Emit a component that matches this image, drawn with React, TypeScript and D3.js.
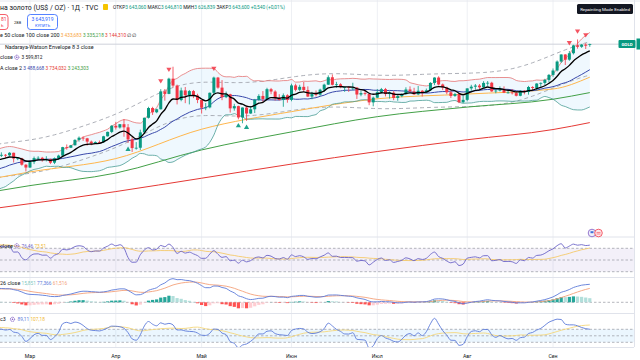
import React from 'react';
import * as d3 from 'd3';

// ---------- data ----------
const closedDays = ['2025-04-18', '2025-07-04'];
const monthNames = ['Янв', 'Фев', 'Мар', 'Апр', 'Май', 'Июн', 'Июл', 'Авг', 'Сен'];

// closes before the visible range (indicator warm-up only)
const priorCloses = [2612, 2618, 2634, 2621, 2606, 2624, 2658, 2640, 2636, 2648, 2662, 2670, 2689, 2662, 2677, 2697, 2714, 2702, 2708, 2745, 2755, 2754, 2770, 2740, 2763, 2760, 2794, 2798, 2815, 2842, 2866, 2856, 2861, 2908, 2897, 2905, 2928, 2882, 2898, 2935];

const opens = [2935, 2933, 2939, 2936, 2952, 2915, 2917, 2876, 2858, 2893, 2918, 2920, 2910, 2911, 2889, 2917, 2934, 2988, 2984, 3000, 3034, 3048, 3044, 3023, 3011, 3020, 3019, 3057, 3085, 3124, 3113, 3134, 3114, 3037, 2982, 2984, 3082, 3175, 3237, 3210, 3229, 3343, 3327, 3424, 3380, 3288, 3349, 3319, 3345, 3317, 3288, 3239, 3241, 3334, 3431, 3367, 3306, 3325, 3235, 3249, 3177, 3240, 3202, 3229, 3290, 3314, 3294, 3357, 3342, 3300, 3288, 3318, 3289, 3381, 3353, 3372, 3352, 3310, 3326, 3322, 3354, 3386, 3433, 3385, 3388, 3369, 3370, 3367, 3367, 3323, 3332, 3327, 3273, 3303, 3338, 3357, 3326, 3335, 3301, 3313, 3325, 3355, 3343, 3324, 3347, 3338, 3350, 3397, 3431, 3387, 3368, 3337, 3314, 3326, 3274, 3289, 3362, 3373, 3380, 3369, 3397, 3398, 3343, 3348, 3356, 3335, 3336, 3332, 3315, 3347, 3339, 3371, 3365, 3393, 3397, 3416, 3448, 3476, 3533, 3578, 3545, 3586, 3636, 3627, 3641, 3643.06];
const highs = [2947, 2955, 2944, 2956, 2953, 2925, 2920, 2880, 2898, 2928, 2930, 2926, 2930, 2915, 2922, 2940, 2990, 3005, 3002, 3038, 3056, 3057, 3047, 3030, 3025, 3030, 3060, 3087, 3128, 3149, 3135, 3167, 3135, 3055, 3020, 3099, 3176, 3245, 3245, 3233, 3357, 3358, 3430, 3500, 3386, 3367, 3371, 3352, 3352, 3328, 3290, 3269, 3336, 3437, 3435, 3415, 3342, 3328, 3264, 3252, 3241, 3252, 3250, 3295, 3325, 3345, 3366, 3365, 3350, 3325, 3330, 3325, 3392, 3392, 3385, 3403, 3375, 3340, 3349, 3360, 3392, 3445, 3451, 3404, 3395, 3372, 3375, 3398, 3371, 3347, 3350, 3328, 3310, 3358, 3365, 3365, 3343, 3345, 3318, 3330, 3369, 3375, 3366, 3377, 3352, 3361, 3402, 3433, 3439, 3393, 3373, 3345, 3334, 3334, 3315, 3363, 3385, 3390, 3390, 3408, 3409, 3404, 3358, 3375, 3375, 3346, 3358, 3345, 3351, 3351, 3378, 3376, 3395, 3400, 3423, 3454, 3489, 3540, 3579, 3580, 3600, 3640, 3674, 3645, 3650, 3646.81];
const lows = [2922, 2925, 2920, 2930, 2890, 2905, 2870, 2833, 2856, 2880, 2905, 2895, 2897, 2880, 2880, 2906, 2930, 2972, 2982, 2998, 3023, 3028, 2998, 3000, 3008, 3011, 3015, 3055, 3077, 3100, 3106, 3054, 3015, 2957, 2972, 2970, 3072, 3170, 3193, 3204, 3228, 3284, 3325, 3367, 3260, 3280, 3268, 3260, 3300, 3268, 3202, 3223, 3235, 3320, 3360, 3287, 3300, 3208, 3220, 3165, 3140, 3155, 3200, 3205, 3283, 3277, 3287, 3325, 3285, 3285, 3245, 3271, 3280, 3343, 3345, 3339, 3307, 3293, 3310, 3315, 3340, 3384, 3381, 3366, 3363, 3340, 3340, 3350, 3295, 3312, 3317, 3255, 3248, 3300, 3330, 3311, 3297, 3287, 3283, 3306, 3322, 3341, 3320, 3319, 3310, 3332, 3345, 3383, 3381, 3351, 3325, 3301, 3308, 3268, 3268, 3280, 3346, 3355, 3358, 3366, 3378, 3340, 3331, 3343, 3332, 3330, 3323, 3311, 3312, 3324, 3322, 3351, 3350, 3373, 3384, 3402, 3436, 3470, 3525, 3511, 3538, 3578, 3615, 3620, 3613, 3626.84];
const closes = [2933, 2939, 2936, 2952, 2915, 2917, 2876, 2858, 2893, 2918, 2920, 2910, 2911, 2889, 2917, 2934, 2988, 2984, 3000, 3034, 3048, 3044, 3023, 3011, 3020, 3019, 3057, 3085, 3124, 3113, 3134, 3114, 3037, 2982, 2984, 3082, 3175, 3237, 3210, 3229, 3343, 3327, 3424, 3380, 3288, 3349, 3319, 3345, 3317, 3288, 3239, 3241, 3334, 3431, 3367, 3306, 3325, 3235, 3249, 3177, 3240, 3202, 3229, 3290, 3314, 3294, 3357, 3342, 3300, 3288, 3318, 3289, 3381, 3353, 3372, 3352, 3310, 3326, 3322, 3354, 3386, 3433, 3385, 3388, 3369, 3370, 3368, 3367, 3323, 3332, 3327, 3273, 3303, 3338, 3357, 3326, 3335, 3301, 3313, 3325, 3355, 3343, 3324, 3347, 3338, 3350, 3397, 3431, 3387, 3368, 3337, 3314, 3326, 3274, 3289, 3362, 3373, 3380, 3369, 3397, 3398, 3343, 3348, 3356, 3335, 3336, 3332, 3315, 3347, 3339, 3371, 3365, 3393, 3397, 3416, 3448, 3476, 3533, 3578, 3545, 3586, 3636, 3627, 3641, 3634, 3643.6];

// long moving averages at a few bars
const maKnots = [0, 8, 29, 50, 72, 93, 115, 136, 145];
const ma50Values = [2793, 2830, 2915, 3102, 3214, 3296, 3326, 3358, 3433.683];
const ma100Values = [2709, 2743, 2823, 2970, 3085, 3182, 3243, 3293, 3335.218];
const ma200Values = [2600, 2628, 2705, 2790, 2880, 2960, 3035, 3100, 3144.31];

// Nadaraya-Watson signals (bar index)
const sellSignals = [40, 42, 53, 140, 142, 144];
const buySignals = [32, 59, 61];

// ---------- helpers ----------
const emaArr = (src: number[], n: number) => {
  const k = 2 / (n + 1);
  const out: number[] = [];
  src.forEach((v, i) => out.push(i ? k * v + (1 - k) * out[i - 1] : v));
  return out;
};
const smaArr = (src: number[], n: number) =>
  src.map((_, i) => d3.mean(src.slice(Math.max(0, i - n + 1), i + 1)) as number);
const stdArr = (src: number[], n: number) =>
  src.map((_, i) => {
    const w = src.slice(Math.max(0, i - n + 1), i + 1);
    const m = d3.mean(w) as number;
    return Math.sqrt(d3.mean(w.map((v) => (v - m) ** 2)) as number);
  });
const rmaArr = (src: number[], n: number) => {
  const out: number[] = [];
  src.forEach((v, i) => {
    if (i < n) out.push(d3.mean(src.slice(0, i + 1)) as number);
    else out.push((v + (n - 1) * out[i - 1]) / n);
  });
  return out;
};

const FONT = 'Roboto, "Noto Sans", Arial, sans-serif';
const TXT = '#131722';
const UP = '#089981';
const DOWN = '#f23645';
const PANE_R = 634;
const FW = 5.4; // legend words
const FN = 4.8; // legend numbers

export default function App() {
  const fmt = d3.timeFormat('%Y-%m-%d');
  const dates = d3.timeDay
    .range(new Date(2025, 1, 19), new Date(2025, 8, 13))
    .filter((d) => d.getDay() !== 0 && d.getDay() !== 6 && !closedDays.includes(fmt(d)));
  const N = closes.length;
  const idx = d3.range(N);

  const x = d3.scaleLinear().domain([0, 145]).range([-2.7, 589.8]);
  const y = d3.scaleLinear().domain([2422, 3925]).range([236, 0]);
  const yRsi = d3.scaleLinear().domain([30, 70]).range([271.7, 248.3]);
  const yMacd = d3.scaleLinear().domain([0, 77.366]).range([302.3, 284]);
  const yCci = d3.scaleLinear().domain([-100, 100]).range([342.3, 329.3]);

  const monthTicks = idx.filter((i) => i > 0 && dates[i] && dates[i].getMonth() !== dates[i - 1].getMonth());

  // indicators on warm-up + visible closes
  const P = priorCloses.length;
  const all = [...priorCloses, ...closes];
  const vis = (arr: number[]) => arr.slice(P);
  const ema8 = vis(emaArr(all, 8));
  const basis = vis(smaArr(all, 20));
  const dev = vis(stdArr(all, 20));
  const bbUp = basis.map((b, i) => b + 2 * dev[i]);
  const bbLo = basis.map((b, i) => b - 2 * dev[i]);

  const gains = all.map((v, i) => (i ? Math.max(v - all[i - 1], 0) : 0));
  const losses = all.map((v, i) => (i ? Math.max(all[i - 1] - v, 0) : 0));
  const rg = rmaArr(gains, 14);
  const rl = rmaArr(losses, 14);
  const rsiAll = rg.map((g, i) => (rl[i] === 0 ? 100 : 100 - 100 / (1 + g / rl[i])));
  const rsi = vis(rsiAll);
  const rsiMa = vis(smaArr(rsiAll, 14));

  const e12 = emaArr(all, 12);
  const e26 = emaArr(all, 26);
  const macdAll = e12.map((v, i) => v - e26[i]);
  const sigAll = emaArr(macdAll, 9);
  const histAll = macdAll.map((m, i) => m - sigAll[i]);
  const macd = vis(macdAll);
  const sig = vis(sigAll);
  const hist = vis(histAll);
  const histPrev = vis(histAll.map((_, i, a) => (i ? a[i - 1] : a[0])));

  const hlc3 = [...priorCloses, ...closes.map((c, i) => (highs[i] + lows[i] + c) / 3)];
  const cciMaSrc = smaArr(hlc3, 20);
  const cciAll = hlc3.map((v, i) => {
    const w = hlc3.slice(Math.max(0, i - 19), i + 1);
    const md = d3.mean(w.map((u) => Math.abs(u - cciMaSrc[i]))) as number;
    return md === 0 ? 0 : (v - cciMaSrc[i]) / (0.015 * md);
  });
  const cci = vis(cciAll);
  const cciMa = vis(smaArr(cciAll, 14));

  const h = 8;
  const nwAll = all.map((_, i) => {
    let s = 0, ws = 0;
    for (let j = 0; j < all.length; j++) {
      const w = Math.exp(-((i - j) ** 2) / (2 * h * h));
      s += w * all[j];
      ws += w;
    }
    return s / ws;
  });
  const mae = (d3.mean(all.map((v, i) => Math.abs(v - nwAll[i]))) as number) * 3;
  const nw = vis(nwAll);
  const nwUp = nw.map((v) => v + mae);
  const nwLo = nw.map((v) => v - mae);

  const lineOf = (arr: number[], ys: d3.ScaleLinear<number, number>) =>
    d3.line<number>().x((i) => x(i)).y((i) => ys(arr[i])).curve(d3.curveMonotoneX)(idx) || '';
  const knotLine = (vals: number[]) =>
    d3.line<number>().x((k) => x(maKnots[k])).y((k) => y(vals[k])).curve(d3.curveMonotoneX)(d3.range(maKnots.length)) || '';
  const bbArea = d3.area<number>().x((i) => x(i)).y0((i) => y(bbLo[i])).y1((i) => y(bbUp[i])).curve(d3.curveMonotoneX)(idx) || '';
  const rsiBand = `M0,${yRsi(70)}H${PANE_R}V${yRsi(30)}H0Z`;
  const cciBand = `M0,${yCci(100)}H${PANE_R}V${yCci(-100)}H0Z`;

  const bw = 3;
  const tri = (cx: number, cy: number, down: boolean) =>
    down
      ? `M${cx - 2.6},${cy - 2}L${cx + 2.6},${cy - 2}L${cx},${cy + 2.4}Z`
      : `M${cx - 2.6},${cy + 2}L${cx + 2.6},${cy + 2}L${cx},${cy - 2.4}Z`;

  const gear = (cx: number, cy: number) => (
    <g>
      <circle cx={cx} cy={cy} r={2.1} fill="none" stroke="#7e57c2" strokeWidth={1} strokeDasharray="1 0.6" />
      <circle cx={cx} cy={cy} r={0.8} fill="#7e57c2" />
    </g>
  );

  return (
    <svg width={640} height={360} style={{ position: 'absolute', left: 0, top: 0, display: 'block', background: '#fff' }} fontFamily={FONT}>
      <defs>
        <clipPath id="cMain"><rect x={0} y={0} width={PANE_R} height={236} /></clipPath>
        <clipPath id="cRsi"><rect x={0} y={238} width={PANE_R} height={39} /></clipPath>
        <clipPath id="cMacd"><rect x={0} y={278} width={PANE_R} height={35} /></clipPath>
        <clipPath id="cCci"><rect x={0} y={314} width={PANE_R} height={33} /></clipPath>
      </defs>
      <rect x={0} y={0} width={640} height={360} fill="#fff" />

      {/* vertical grid */}
      {monthTicks.map((i) => (
        <line key={'g' + i} x1={x(i)} x2={x(i)} y1={0} y2={347} stroke="#eef0f4" strokeWidth={1} />
      ))}
      <line x1={0} x2={640} y1={1} y2={1} stroke="#e6e8ee" />
      {/* pane separators */}
      {[237, 277.5, 313.5, 347.5].map((yy) => (
        <line key={'s' + yy} x1={0} x2={PANE_R} y1={yy} y2={yy} stroke="#e0e3eb" strokeWidth={1} />
      ))}
      <line x1={PANE_R + 0.5} x2={PANE_R + 0.5} y1={0} y2={347} stroke="#e0e3eb" />

      {/* ---- main pane ---- */}
      <g clipPath="url(#cMain)">
        <path d={bbArea} fill="rgba(33,150,243,0.07)" />
        <path d={lineOf(nwUp, y)} fill="none" stroke="#a3a6af" strokeWidth={0.9} strokeDasharray="4 3" />
        <path d={lineOf(nwLo, y)} fill="none" stroke="#a3a6af" strokeWidth={0.9} strokeDasharray="4 3" />
        <path d={knotLine(ma200Values)} fill="none" stroke="#e53935" strokeWidth={1} />
        <path d={knotLine(ma100Values)} fill="none" stroke="#43a047" strokeWidth={1} />
        <path d={knotLine(ma50Values)} fill="none" stroke="#ffb74d" strokeWidth={1} />
        <path d={lineOf(bbLo, y)} fill="none" stroke="#4a9d94" strokeWidth={0.8} />
        <path d={lineOf(bbUp, y)} fill="none" stroke="#e57373" strokeWidth={0.8} />
        <path d={lineOf(basis, y)} fill="none" stroke="#3949ab" strokeWidth={1} />
        <line x1={0} x2={PANE_R} y1={y(closes[N - 1])} y2={y(closes[N - 1])} stroke="#cfd2da" strokeWidth={1} />
        {idx.map((i) => {
          const up = closes[i] >= opens[i];
          const c = up ? UP : DOWN;
          const top = y(Math.max(opens[i], closes[i]));
          const bot = y(Math.min(opens[i], closes[i]));
          return (
            <g key={'c' + i}>
              <line x1={x(i)} x2={x(i)} y1={y(highs[i])} y2={y(lows[i])} stroke={c} strokeWidth={0.8} />
              <rect x={x(i) - bw / 2} y={top} width={bw} height={Math.max(0.8, bot - top)} fill={c} />
            </g>
          );
        })}
        <path d={lineOf(ema8, y)} fill="none" stroke="#000" strokeWidth={1.3} />
        {sellSignals.map((i) => (
          <path key={'sv' + i} d={tri(x(i), y(highs[i]) - 8, true)} fill={DOWN} opacity={0.85} />
        ))}
        {buySignals.map((i) => (
          <path key={'bv' + i} d={tri(x(i), y(lows[i]) + 6, false)} fill={UP} opacity={0.9} />
        ))}
      </g>

      {/* ---- RSI pane ---- */}
      <g clipPath="url(#cRsi)">
        <path d={rsiBand} fill="rgba(126,87,194,0.09)" />
        {[70, 50, 30].map((v) => (
          <line key={'r' + v} x1={0} x2={PANE_R} y1={yRsi(v)} y2={yRsi(v)} stroke="#9598a1" strokeWidth={0.7} strokeDasharray="2.5 2" />
        ))}
        <path d={lineOf(rsiMa, yRsi)} fill="none" stroke="#f5c96a" strokeWidth={0.9} />
        <path d={lineOf(rsi, yRsi)} fill="none" stroke="#6b63c7" strokeWidth={0.9} />
      </g>

      {/* ---- MACD pane ---- */}
      <g clipPath="url(#cMacd)">
        <line x1={0} x2={PANE_R} y1={yMacd(0)} y2={yMacd(0)} stroke="#9598a1" strokeWidth={0.7} strokeDasharray="2.5 2" />
        {idx.map((i) => {
          const v = hist[i];
          const pv = histPrev[i];
          const col = v >= 0 ? (v > pv ? '#26a69a' : '#b2dfdb') : v < pv ? '#ff5252' : '#ffcdd2';
          const y0 = yMacd(0);
          const y1 = yMacd(v);
          return <rect key={'h' + i} x={x(i) - 1.6} width={3.2} y={Math.min(y0, y1)} height={Math.abs(y1 - y0)} fill={col} />;
        })}
        <path d={lineOf(sig, yMacd)} fill="none" stroke="#f4a27a" strokeWidth={0.9} />
        <path d={lineOf(macd, yMacd)} fill="none" stroke="#5c7bd9" strokeWidth={0.9} />
      </g>

      {/* ---- CCI pane ---- */}
      <g clipPath="url(#cCci)">
        <path d={cciBand} fill="rgba(33,150,243,0.09)" />
        {[100, 0, -100].map((v) => (
          <line key={'cc' + v} x1={0} x2={PANE_R} y1={yCci(v)} y2={yCci(v)} stroke="#9598a1" strokeWidth={0.7} strokeDasharray="2.5 2" />
        ))}
        <path d={lineOf(cciMa, yCci)} fill="none" stroke="#f5d77a" strokeWidth={0.9} />
        <path d={lineOf(cci, yCci)} fill="none" stroke="#5c7bd9" strokeWidth={0.9} />
      </g>

      {/* ---- time axis ---- */}
      {monthTicks.map((i) => (
        <text key={'m' + i} x={x(i)} y={357.5} fontSize={5.2} fill={TXT} textAnchor="middle">
          {monthNames[dates[i].getMonth()]}
        </text>
      ))}

      {/* ---- header / legends ---- */}
      <text x={0} y={9.5} fontSize={6.9} fill={TXT}>на золото (US$ / OZ) · 1Д · TVC</text>
      <rect x={103} y={4} width={5} height={6} rx={0.8} fill="#f5c400" />
      <text x={113} y={9} fontSize={4.8} fill={TXT}>
        ОТКР<tspan fill={UP}>3 643,060</tspan> МАКС<tspan fill={UP}>3 646,810</tspan> МИН<tspan fill={UP}>3 626,839</tspan> ЗАКР<tspan fill={UP}>3 643,600</tspan>
        <tspan fill={UP}> +0,540 (+0,01%)</tspan>
      </text>

      <rect x={-20} y={14.5} width={28} height={15} rx={3} fill="#fff" stroke={DOWN} strokeWidth={0.8} />
      <text x={1} y={20.5} fontSize={5} fill={DOWN}>81</text>
      <text x={1} y={27} fontSize={4} fill={DOWN}>Ь</text>
      <text x={14} y={23.5} fontSize={4.2} fill={TXT}>288</text>
      <rect x={27.5} y={14.5} width={30} height={15} rx={3} fill="#fff" stroke="#2962ff" strokeWidth={0.8} />
      <text x={42.5} y={21} fontSize={5} fill="#2962ff" textAnchor="middle">3 643,919</text>
      <text x={42.5} y={26.8} fontSize={3.9} fill="#2962ff" textAnchor="middle">КУПИТЬ</text>

      <text x={0} y={37} fontSize={FW} fill={TXT}>
        e 50 close 100 close 200
        <tspan fontSize={FN} fill="#f7a33c"> 3 433,683</tspan>
        <tspan fontSize={FN} fill="#43a047"> 3 335,218</tspan>
        <tspan fontSize={FN} fill="#e53935"> 3 144,310</tspan>
        <tspan fontSize={FN} fill={TXT}>  ∅ ∅</tspan>
      </text>
      <text x={5} y={49} fontSize={FW} fill={TXT}>Nadaraya-Watson Envelope 8 3 close</text>
      <text x={0} y={59} fontSize={FW} fill={TXT}>close</text>
      {gear(16.8, 57.3)}
      <text x={21.5} y={59} fontSize={FN} fill={TXT}>3 599,812</text>
      <text x={0} y={69.5} fontSize={FW} fill={TXT}>
        A close 2
        <tspan fontSize={FN} fill="#3949ab"> 3 488,668</tspan>
        <tspan fontSize={FN} fill="#e53935"> 3 734,032</tspan>
        <tspan fontSize={FN} fill="#43a047"> 3 243,303</tspan>
      </text>

      <text x={0} y={247.5} fontSize={FW} fill={TXT}>close</text>
      {gear(16.8, 245.8)}
      <text x={21.5} y={247.5} fontSize={FN} fill="#6b63c7">76,46 <tspan fill="#f0b93a"> 73,51</tspan></text>

      <text x={0} y={285} fontSize={FW} fill={TXT}>
        26 close
        <tspan fontSize={FN} fill="#7fc9c0"> 15,851</tspan>
        <tspan fontSize={FN} fill="#5c7bd9"> 77,366</tspan>
        <tspan fontSize={FN} fill="#f4a27a"> 61,516</tspan>
      </text>

      <text x={0} y={321} fontSize={FW} fill={TXT}>c3</text>
      {gear(12.5, 319.3)}
      <text x={17.5} y={321} fontSize={FN} fill="#5c7bd9">89,11 <tspan fill="#f0b93a"> 107,18</tspan></text>

      {/* top-right badge */}
      <rect x={577} y={4} width={56} height={10} rx={1.5} fill="#131722" />
      <text x={605} y={10.6} fontSize={4.4} fill="#fff" textAnchor="middle">Repainting Mode Enabled</text>

      {/* symbol / price labels */}
      <rect x={618.5} y={40} width={17} height={8} rx={1} fill={UP} />
      <text x={627} y={45.6} fontSize={4.4} fill="#fff" textAnchor="middle" fontWeight={700}>GOLD</text>
      <rect x={636.5} y={38.5} width={10} height={11} fill={UP} />

      {/* events icon */}
      <circle cx={592} cy={233} r={3.8} fill="#eef0fb" stroke="#7e57c2" strokeWidth={0.8} />
      <circle cx={598.5} cy={233} r={3.8} fill="#fdecee" stroke={DOWN} strokeWidth={0.8} />
      <rect x={590.5} y={231.2} width={3} height={2} fill="#3f6fd8" />
      <line x1={596.5} x2={600.5} y1={232.4} y2={232.4} stroke={DOWN} strokeWidth={0.6} />
      <line x1={596.5} x2={600.5} y1={234} y2={234} stroke={DOWN} strokeWidth={0.6} />
    </svg>
  );
}
